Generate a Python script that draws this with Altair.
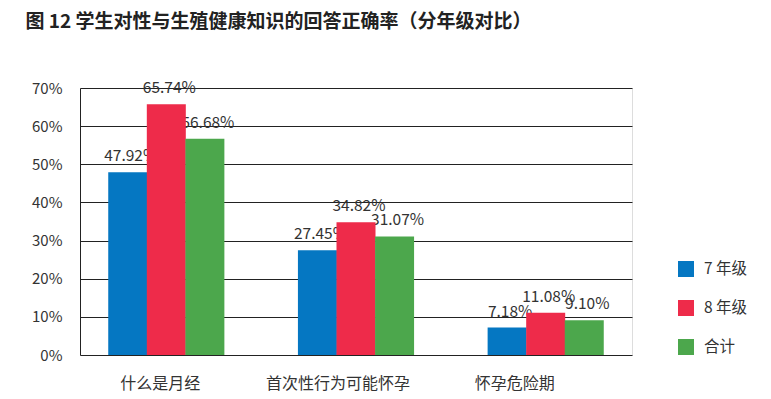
import altair as alt
import pandas as pd

categories = ["什么是月经", "首次性行为可能怀孕", "怀孕危险期"]
series = ["7 年级", "8 年级", "合计"]
grade7 = [47.92, 27.45, 7.18]
grade8 = [65.74, 34.82, 11.08]
total = [56.68, 31.07, 9.10]
colors = ["#0577C2", "#EE2B4A", "#4CA74C"]

rows = []
for i, c in enumerate(categories):
    for s, vals in zip(series, [grade7, grade8, total]):
        rows.append({"category": c, "series": s, "value": vals[i] / 100})
df = pd.DataFrame(rows)

FONT = "Noto Sans CJK SC"

label_shift = {
    "condition": [
        {"test": f"datum.value == '{categories[0]}'", "value": -6},
        {"test": f"datum.value == '{categories[1]}'", "value": -18},
    ],
    "value": -31,
}

x = alt.X("category:N", sort=categories, title=None,
          scale=alt.Scale(paddingInner=0.39, paddingOuter=0.15),
          axis=alt.Axis(labelAngle=0, labelFontSize=16, labelColor="#333333",
                        labelFont=FONT, ticks=False, domain=False, labelPadding=20,
                        labelOffset=label_shift))
xo = alt.XOffset("series:N", sort=series, scale=alt.Scale(paddingInner=0, paddingOuter=0))
y = alt.Y("value:Q", title=None,
          scale=alt.Scale(domain=[0, 0.7], nice=False),
          axis=alt.Axis(format=".0%", values=[0, 0.1, 0.2, 0.3, 0.4, 0.5, 0.6, 0.7],
                        labelFontSize=15, labelColor="#333333", labelFont=FONT,
                        ticks=False, domain=True, domainColor="#222222",
                        grid=True, gridColor="#222222", gridOpacity=1, gridWidth=1,
                        labelPadding=18))

base = alt.Chart(df)

text = base.transform_calculate(
    label="format(datum.value * 100, '.2f') + '%'"
).mark_text(baseline="bottom", dy=-8, dx=3, fontSize=15.5, font=FONT, color="#333333").encode(
    x=x, xOffset=xo, y=y, text="label:N"
)

bars = base.mark_bar(size=39).encode(
    x=x, xOffset=xo, y=y,
    color=alt.Color("series:N", sort=series,
                    scale=alt.Scale(domain=series, range=colors),
                    legend=alt.Legend(title=None, orient="none", legendX=598, legendY=173,
                                      symbolType="square", symbolSize=256,
                                      symbolStrokeWidth=0, symbolOpacity=1,
                                      labelFontSize=15.5, labelFont=FONT, labelColor="#333333",
                                      rowPadding=22, labelOffset=10)),
)

chart = alt.layer(text, bars).properties(
    width=552, height=267,
    autosize=alt.AutoSizeParams(type="none"),
    padding={"left": 72, "top": 80, "right": 130, "bottom": 60},
    title=alt.TitleParams(
        "图 12 学生对性与生殖健康知识的回答正确率（分年级对比）",
        anchor="start", font=FONT, fontSize=19, fontWeight="bold", color="#222222",
        dx=-6, offset=49),
).configure_view(stroke="#222222", strokeWidth=1).configure(background="white")

chart.save("out.html", embed_options={"renderer": "svg", "actions": False})
